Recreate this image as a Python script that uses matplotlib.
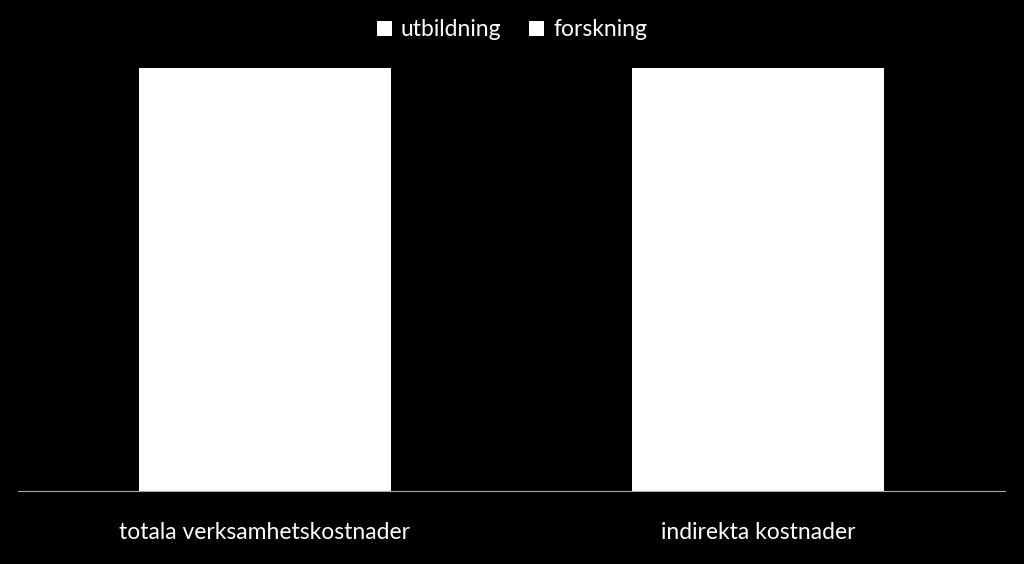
import matplotlib.pyplot as plt
import numpy as np

categories = ["totala verksamhetskostnader", "indirekta kostnader"]
utbildning = [58, 55]
forskning = [42, 45]

plt.rcParams['font.family'] = ['Lato', 'DejaVu Sans']

fig = plt.figure(figsize=(10.24, 5.64), dpi=100, facecolor="black")
ax = fig.add_axes([18 / 1024, 1 - 491 / 564, 987 / 1024, (491 - 68) / 564])
ax.set_facecolor("black")

x = np.arange(len(categories))
w = 0.51
ax.bar(x, utbildning, w, color="white", linewidth=0, label="utbildning")
ax.bar(x, forskning, w, bottom=utbildning, color="white", linewidth=0, label="forskning")

ax.set_xlim(-0.5, 1.5)
ax.set_ylim(0, 100)
ax.set_yticks([])
ax.set_xticks(x)
ax.set_xticklabels(categories, color="white", fontsize=16.5)
ax.tick_params(axis="x", length=0, pad=22)
for s in ["top", "left", "right"]:
    ax.spines[s].set_visible(False)
ax.spines["bottom"].set_color("#a6a6a6")
ax.spines["bottom"].set_linewidth(0.8)

leg = fig.legend(loc="center", bbox_to_anchor=(0.5, 1 - 30 / 564), ncol=2, frameon=False,
                 fontsize=16.5, handlelength=0.65, handleheight=0.65, handletextpad=0.4,
                 columnspacing=1.2, labelcolor="white")

fig.savefig("out.png", dpi=100, facecolor="black")
